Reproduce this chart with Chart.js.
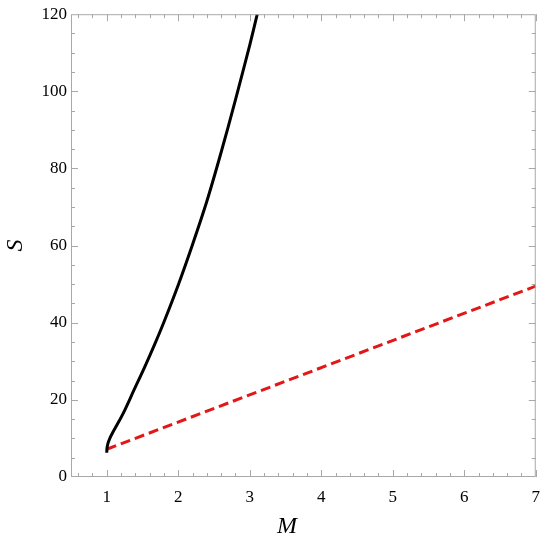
<!DOCTYPE html>
<html>
<head>
<meta charset="utf-8">
<script src="https://cdn.jsdelivr.net/npm/chart.js@4"></script>
<style>
  html, body { margin: 0; padding: 0; background: #fff; }
  #wrap { width: 550px; height: 544px; }
</style>
</head>
<body>
<div id="wrap"><canvas id="myChart" width="550" height="544"></canvas></div>
<script>
// black curve
var curveM = [1.0, 1.003, 1.015, 1.04, 1.08, 1.14, 1.23, 1.38, 1.53, 1.67, 1.80, 2.0, 2.2, 2.4, 2.6, 2.8, 3.0, 3.105];
var curveS = [6.3, 7.4, 8.6, 9.9, 11.4, 13.4, 16.5, 22.5, 28.5, 34.4, 40.2, 49.8, 60.3, 71.5, 84.2, 97.8, 112, 120];
// red dashed line
var lineM = [1, 7];
var lineS = [7.2, 49.5];

var xTicks = [1, 2, 3, 4, 5, 6, 7];
var yTicks = [0, 20, 40, 60, 80, 100, 120];
var xTitle = 'M';
var yTitle = 'S';

function toPoints(xs, ys) {
    return xs.map(function (x, i) { return { x: x, y: ys[i] }; });
}

var serif = '"Liberation Serif", "DejaVu Serif", serif';
var frameColor = '#a8a8a8';

// frame, inside ticks (major + minor) and axis titles
var framePlugin = {
    id: 'frame',
    afterDraw: function (chart) {
        var ctx = chart.ctx;
        var a = chart.chartArea;
        var xs = chart.scales.x, ys = chart.scales.y;
        ctx.save();
        ctx.strokeStyle = frameColor;
        ctx.lineWidth = 1;
        ctx.strokeRect(a.left + 0.5, a.top + 0.5, a.right - a.left - 1, a.bottom - a.top - 1);
        ctx.beginPath();
        for (var i = 0; i <= 65; i++) {
            var v = 0.6 + i * 0.1;
            if (Math.round(v * 10) % 2 !== 0 || v > 7.0001) continue;
            var major = Math.abs(v - Math.round(v)) < 1e-6;
            var len = major ? 7 : 4;
            var px = Math.round(xs.getPixelForValue(v)) + 0.5;
            ctx.moveTo(px, a.bottom); ctx.lineTo(px, a.bottom - len);
            ctx.moveTo(px, a.top); ctx.lineTo(px, a.top + len);
        }
        for (var s = 5; s < 120; s += 5) {
            var maj = s % 20 === 0;
            var l = maj ? 7 : 4;
            var py = Math.round(ys.getPixelForValue(s)) + 0.5;
            ctx.moveTo(a.left, py); ctx.lineTo(a.left + l, py);
            ctx.moveTo(a.right, py); ctx.lineTo(a.right - l, py);
        }
        ctx.stroke();

        ctx.fillStyle = '#000';
        ctx.font = 'italic 24px ' + serif;
        ctx.textAlign = 'center';
        ctx.textBaseline = 'middle';
        ctx.fillText(xTitle, 287, 527);
        ctx.translate(16, (a.top + a.bottom) / 2);
        ctx.rotate(-Math.PI / 2);
        ctx.fillText(yTitle, 0, 0);
        ctx.restore();
    }
};

var ctx = document.getElementById('myChart').getContext('2d');
var myChart = new Chart(ctx, {
    type: 'scatter',
    data: {
        datasets: [{
            data: toPoints(curveM, curveS),
            showLine: true,
            borderColor: '#000',
            borderWidth: 3,
            pointRadius: 0,
            tension: 0.3
        }, {
            data: toPoints(lineM, lineS),
            showLine: true,
            borderColor: 'rgb(228, 22, 22)',
            borderWidth: 3,
            borderDash: [10, 5],
            pointRadius: 0
        }]
    },
    options: {
        responsive: false,
        animation: false,
        layout: { padding: { top: 13, right: 14, left: 0, bottom: 0 } },
        plugins: {
            legend: { display: false },
            tooltip: { enabled: false }
        },
        scales: {
            x: {
                type: 'linear',
                min: 0.5,
                max: 7,
                afterBuildTicks: function (scale) {
                    scale.ticks = xTicks.map(function (v) { return { value: v }; });
                },
                afterFit: function (scale) { scale.height = 67; },
                grid: { display: false, drawTicks: false },
                border: { display: false },
                ticks: {
                    color: '#000',
                    padding: 10,
                    maxRotation: 0,
                    font: { family: serif, size: 17 }
                }
            },
            y: {
                type: 'linear',
                min: 0,
                max: 120,
                afterBuildTicks: function (scale) {
                    scale.ticks = yTicks.map(function (v) { return { value: v }; });
                },
                afterFit: function (scale) { scale.width = 71; },
                grid: { display: false, drawTicks: false },
                border: { display: false },
                ticks: {
                    color: '#000',
                    padding: 4,
                    font: { family: serif, size: 17 }
                }
            }
        }
    },
    plugins: [framePlugin]
});
</script>
</body>
</html>
